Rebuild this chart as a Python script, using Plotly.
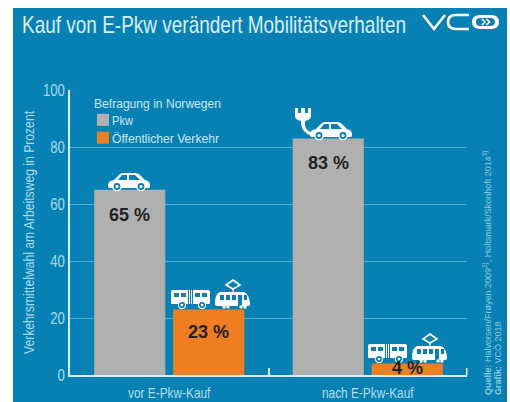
import plotly.graph_objects as go

TITLE = "Kauf von E-Pkw verändert Mobilitätsverhalten"
categories = ["vor E-Pkw-Kauf", "nach E-Pkw-Kauf"]
pkw = [65, 83]
oev = [23, 4]
y_ticks = [0, 20, 40, 60, 80, 100]
YTITLE = "Verkehrsmittelwahl am Arbeitsweg in Prozent"
LEGEND_TITLE = "Befragung in Norwegen"
SOURCE = "<b>Quelle:</b> Halvorsen/Frøyen 2009<sup>2)</sup>, Holtsmark/Skonhoft 2014<sup>3)</sup>"
CREDIT = "<b>Grafik:</b> VCÖ 2018"

W, H = 510, 402
L, R, T, B = 70, 467, 90, 375
BLUE = "#0781b3"; GREY = "#b0b0b0"; ORANGE = "#ef7d22"; PALE = "#a9d9e9"; WHITE = "#ffffff"
FONT = "Liberation Sans, Arial"

def px(x): return (x - L) / (R - L)
def py(y): return (B - y) / (B - T)

shapes = []
def rect(x0, y0, x1, y1, fill, layer="above"):
    shapes.append(dict(type="rect", xref="paper", yref="paper", x0=px(x0), x1=px(x1), y0=py(y1), y1=py(y0),
                       fillcolor=fill, line_width=0, layer=layer))
def circle(cx, cy, r, fill):
    shapes.append(dict(type="circle", xref="paper", yref="paper", x0=px(cx-r), x1=px(cx+r), y0=py(cy+r), y1=py(cy-r),
                       fillcolor=fill, line_width=0, layer="above"))
def path(cmds, ox=0, oy=0, fill=WHITE, stroke=None, width=0, s=1.0):
    out = []
    for c in cmds:
        if c[0] == "Z":
            out.append("Z"); continue
        pts = c[1:]
        xy = [f"{px(ox + pts[i]*s):.5f},{py(oy + pts[i+1]*s):.5f}" for i in range(0, len(pts), 2)]
        out.append(c[0] + " " + " ".join(xy))
    shapes.append(dict(type="path", xref="paper", yref="paper", path=" ".join(out), fillcolor=fill,
                       line=dict(color=stroke or "rgba(0,0,0,0)", width=width), layer="above"))

def car(ox, oy, s=1.0):
    path([("M",0,13),("Q",0,9,6,8),("L",12,2),("Q",13,1,17,1),("L",27,1),("Q",30,1,32,3),("L",37,8),
          ("Q",42,9,42,13),("L",42,15),("Q",42,16,40,16),("L",2,16),("Q",0,16,0,14),("Z",)], ox, oy, s=s)
    path([("M",10,8),("L",14,3),("L",19,3),("L",19,8),("Z",)], ox, oy, BLUE, s=s)
    path([("M",21,3),("L",27,3),("L",32,8),("L",21,8),("Z",)], ox, oy, BLUE, s=s)
    for wx in (9, 33):
        circle(ox+wx*s, oy+14.5*s, 4.8*s, WHITE)
        circle(ox+wx*s, oy+14.5*s, 3.4*s, BLUE)
        circle(ox+wx*s, oy+14.5*s, 1.6*s, WHITE)

def bus(ox, oy):
    path([("M",0,2),("Q",0,0,2,0),("L",17,0),("L",17,14),("L",1,14),("Q",0,14,0,13),("Z",)], ox, oy)
    path([("M",22,0),("L",37,0),("Q",39,0,39,2),("L",39,13),("Q",39,14,38,14),("L",22,14),("Z",)], ox, oy)
    rect(ox+18, oy, ox+19, oy+14, WHITE); rect(ox+20, oy, ox+21, oy+14, WHITE)
    for x0, x1 in ((3, 8), (10, 15), (24, 29), (31, 36)):
        rect(ox+x0, oy+3, ox+x1, oy+7, BLUE)
    for wx in (11, 31):
        circle(ox+wx, oy+15, 4.2, WHITE); circle(ox+wx, oy+15, 3, BLUE); circle(ox+wx, oy+15, 1.3, WHITE)

def tram(ox, oy):
    path([("M",0,12),("Q",0,3,5,1),("L",29,1),("Q",34,3,35,12),("L",35,14),("Q",34,15,33,15),("L",2,15),("Q",0,15,0,13),("Z",)], ox, oy)
    for x0, x1 in ((5, 9), (11, 15), (17, 21), (29, 32)):
        rect(ox+x0, oy+4, ox+x1, oy+9, BLUE)
    rect(ox+23, oy+4, ox+27, oy+15, BLUE)
    for wx in (9, 13, 26, 30):
        circle(ox+wx, oy+16, 1.7, WHITE)
    path([("M",18,-11),("L",25,-6),("L",18,-2),("L",11,-6),("Z",)], ox, oy, "rgba(0,0,0,0)", WHITE, 1.6)
    path([("M",18,-2),("L",18,1)], ox, oy, "rgba(0,0,0,0)", WHITE, 1.2)

rect(13, 8, 507, 410, BLUE, layer="below")

car(108, 172)
car(310, 121)
path([("M",295,108),("L",298,108),("L",298,113),("L",301,113),("L",301,108),("L",305,108),("L",305,113),
      ("L",308,113),("L",308,108),("L",311,108),("L",311,116),("Q",311,120,305,121),("L",305,125),
      ("Q",305,130,312,133),("L",312,136),("Q",302,133,301,124),("L",301,121),("Q",295,120,295,116),("Z",)])
bus(171, 290); tram(215, 291)
bus(368, 344); tram(412, 345)

# logo
path([("M",423,15),("L",434,29),("L",445,15)], fill="rgba(0,0,0,0)", stroke=WHITE, width=2.6)
path([("M",469,15),("L",456,15),("Q",448,15,448,22),("Q",448,29,456,29),("L",469,29)], fill="rgba(0,0,0,0)", stroke=WHITE, width=2.6)
path([("M",480,15),("L",491,15),("Q",499,15,499,22),("Q",499,29,491,29),("L",480,29),("Q",472,29,472,22),("Q",472,15,480,15),("Z",)],
     fill=WHITE)
path([("M",480,18),("L",490,18),("Q",495,18,495,22),("Q",495,26,490,26),("L",480,26),("Q",476,26,476,22),("Q",476,18,480,18),("Z",)],
     fill=BLUE)
path([("M",482,19),("L",485,22),("L",482,25)], fill="rgba(0,0,0,0)", stroke=WHITE, width=1.7)
path([("M",486.5,19),("L",489.5,22),("L",486.5,25)], fill="rgba(0,0,0,0)", stroke=WHITE, width=1.7)
# right end tick of the x axis
rect(466, 368, 467.5, 375, "#d5eef5")

fig = go.Figure()
fig.add_bar(name="Pkw", x=categories, y=pkw, marker=dict(color=GREY, line_width=0))
fig.add_bar(name="Öffentlicher Verkehr", x=categories, y=oev, marker=dict(color=ORANGE, line_width=0))

annotations = []
lab = dict(font=dict(family="Liberation Sans", size=18, color="#222222"), showarrow=False, xref="x", yref="y", yanchor="middle")
for i, v in enumerate(pkw):
    annotations.append(dict(x=i, y=v, text=f"<b>{v} %</b>", xshift=-39.5, yshift=-25, **lab))
for i, v in enumerate(oev):
    annotations.append(dict(x=i, y=v, text=f"<b>{v} %</b>", xshift=39.5, yshift=-23 if v > 10 else -4, **lab))
small = dict(family=FONT, size=9, color="#8cc9e0")
annotations.append(dict(text=SOURCE, xref="paper", yref="paper", x=px(487), y=py(397), xanchor="center", yanchor="bottom",
                        textangle=-90, showarrow=False, font=small))
annotations.append(dict(text=CREDIT, xref="paper", yref="paper", x=px(498), y=py(397), xanchor="center", yanchor="bottom",
                        textangle=-90, showarrow=False, font=small))

fig.update_layout(
    width=W, height=H, autosize=False,
    margin=dict(l=L, r=W-R, t=T, b=H-B, pad=0),
    paper_bgcolor=WHITE, plot_bgcolor="rgba(0,0,0,0)",
    barmode="group", bargap=0.204, bargroupgap=0.1,
    title=dict(text=TITLE, x=22/W, xanchor="left", y=1-25/H, yanchor="middle",
               font=dict(family=FONT, size=24, color="#d8eff6")),
    legend=dict(title=dict(text=LEGEND_TITLE, font=dict(family=FONT, size=13, color="#c9e7f1")),
                x=px(92), y=py(91), xanchor="left", yanchor="top", bgcolor="rgba(0,0,0,0)",
                font=dict(family=FONT, size=13, color="#c9e7f1"), itemwidth=30, tracegroupgap=0),
    shapes=shapes, annotations=annotations, showlegend=True,
    font=dict(family=FONT),
)
fig.update_xaxes(type="category", tickson="boundaries", ticks="inside", ticklen=7, tickwidth=1.5, tickcolor="#d5eef5",
                 showline=True, linecolor="#d5eef5", linewidth=2, showgrid=False, ticklabelstandoff=3, automargin=False,
                 tickfont=dict(family=FONT, size=15, color="#b6deeb"))
fig.update_yaxes(range=[0, 100], tickvals=y_ticks, showline=True, linecolor="#d5eef5", linewidth=2, ticks="", automargin=False,
                 gridcolor="#4eaed2", gridwidth=1, zeroline=False,
                 tickfont=dict(family=FONT, size=16, color=PALE),
                 title=dict(text=YTITLE, font=dict(family=FONT, size=15, color=PALE), standoff=0))

# The reference uses a condensed face that is not installed: narrow the real text to the widths it shows.
POST = """
document.body.style.margin='0';document.body.style.overflow='hidden';
var fit=function(sel,target){document.querySelectorAll(sel).forEach(function(t){
  var n=t.getComputedTextLength();var w=target<=1?n*target:target;
  t.setAttribute('textLength',w);t.setAttribute('lengthAdjust','spacingAndGlyphs');});};
fit('.gtitle',384);
fit('.g-ytitle text',243);
fit('.xtick text',0.79);
fit('.ytick text',0.82);
fit('.legendtitletext',127);
document.querySelectorAll('.legendtext').forEach(function(t,i){
  var w=(i==0)?21:107; t.setAttribute('textLength',w);t.setAttribute('lengthAdjust','spacingAndGlyphs');
  t.setAttribute('x',parseFloat(t.getAttribute('x'))-20);});
document.querySelectorAll('.legendpoints').forEach(function(g){g.setAttribute('transform','translate(-9,0)');});
document.querySelectorAll('.legend .traces').forEach(function(g,i){
  var m=/translate\\(([-\\d.]+),\\s*([-\\d.]+)\\)/.exec(g.getAttribute('transform'));
  if(m){g.setAttribute('transform','translate('+m[1]+','+(parseFloat(m[2])-(i==0?3:5))+')');}});
"""
fig.write_html("out.html", post_script=POST, config={"displayModeBar": False})
